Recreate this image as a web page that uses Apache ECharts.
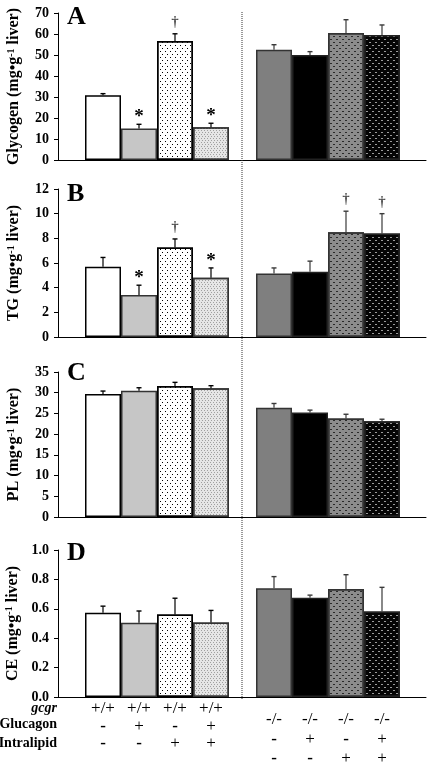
<!DOCTYPE html>
<html>
<head>
<meta charset="utf-8">
<script src="https://cdn.jsdelivr.net/npm/echarts@6/dist/echarts.min.js"></script>
<style>html,body{margin:0;padding:0;background:#fff}#c{width:430px;height:762px}</style>
</head>
<body>
<div id="c"></div>
<script>
// ---------- data ----------
const categories = ['WT','WT+Glucagon','WT+Intralipid','WT+Glucagon+Intralipid','KO','KO+Glucagon','KO+Intralipid','KO+Glucagon+Intralipid'];
const gcgrRow = ['+/+','+/+','+/+','+/+','-/-','-/-','-/-','-/-'];
const glucagonRow = ['-','+','-','+','-','+','-','+'];
const intralipidRow = ['-','-','+','+','-','-','+','+'];
const rowHeaders = ['gcgr','Glucagon','Intralipid'];

const glycogenMean = [30.8, 15.0, 56.7, 15.6, 52.5, 50.0, 60.5, 59.5];
const glycogenErr  = [0.8, 2.0, 3.4, 1.9, 2.4, 1.6, 6.3, 4.8];
const glycogenMark = ['', '*', '†', '*', '', '', '', ''];

const tgMean = [5.7, 3.4, 7.25, 4.8, 5.15, 5.3, 8.5, 8.4];
const tgErr  = [0.75, 0.8, 0.7, 0.8, 0.45, 0.85, 1.7, 1.6];
const tgMark = ['', '*', '†', '*', '', '', '†', '†'];

const plMean = [29.7, 30.5, 31.6, 31.1, 26.4, 25.2, 23.8, 23.1];
const plErr  = [0.7, 0.7, 0.9, 0.6, 1.0, 0.6, 1.0, 0.5];
const plMark = ['', '', '', '', '', '', '', ''];

const ceMean = [0.573, 0.505, 0.562, 0.507, 0.739, 0.675, 0.734, 0.582];
const ceErr  = [0.045, 0.08, 0.11, 0.082, 0.08, 0.018, 0.098, 0.164];
const ceMark = ['', '', '', '', '', '', '', ''];

const panelLetters = ['A','B','C','D'];
const yNames = ['Glycogen', 'TG', 'PL', 'CE'];
const yMax = [70, 12, 35, 1.0];
const yInterval = [10, 2, 5, 0.2];

// ---------- styles / layout ----------
const SERIF = '"Liberation Serif","DejaVu Serif",serif';
const panelTop = [13, 189, 372, 550];
const panelBottom = [160, 337, 517, 697];
const frameLeft = 58, frameRight = 4;
const leftGroup = {left: 85, width: 144};
const rightGroup = {left: 256, width: 144};

const barStyles = [
  {color:'#ffffff', borderColor:'#000', borderWidth:1.5},
  {color:'#c6c6c6', borderColor:'#333', borderWidth:1.5},
  {color:'#ffffff', borderColor:'#000', borderWidth:1.5,
   decal:{symbol:'rect', symbolSize:1, color:'#000', dashArrayX:[[1,4],[0,2,1,2]], dashArrayY:[1,2]}},
  {color:'#e6e6e6', borderColor:'#333', borderWidth:1.5,
   decal:{symbol:'rect', symbolSize:1, color:'#a0a0a0', dashArrayX:[[1,2],[0,1,1,1]], dashArrayY:[1,1]}},
  {color:'#7f7f7f', borderColor:'#333', borderWidth:1.5},
  {color:'#000000', borderColor:'#222', borderWidth:1.5},
  {color:'#8c8c8c', borderColor:'#333', borderWidth:1.5,
   decal:{symbol:'rect', symbolSize:1, color:'#2a2a2a', dashArrayX:[[2,4],[0,3,2,1]], dashArrayY:[1,2]}},
  {color:'#050505', borderColor:'#222', borderWidth:1.5,
   decal:{symbol:'rect', symbolSize:1, color:'#9a9a9a', dashArrayX:[[2,4],[0,3,2,1]], dashArrayY:[1,2]}}
];

const means = [glycogenMean, tgMean, plMean, ceMean];
const errs = [glycogenErr, tgErr, plErr, ceErr];
const marks = [glycogenMark, tgMark, plMark, ceMark];

const grid = [], xAxis = [], yAxis = [], series = [];

function errRender(color) {
  return function (params, api) {
    const idx = api.value(0), v = api.value(1), e = api.value(2);
    const top = api.coord([idx, v]);
    const end = api.coord([idx, v + e]);
    return {type:'group', children:[
      {type:'line', shape:{x1:top[0], y1:top[1], x2:end[0], y2:end[1]}, style:{stroke:color, lineWidth:1.2}},
      {type:'line', shape:{x1:end[0]-2.5, y1:end[1], x2:end[0]+2.5, y2:end[1]}, style:{stroke:color, lineWidth:1.4}}
    ]};
  };
}

function markRender(params, api) {
  const idx = api.value(0), v = api.value(1), e = api.value(2);
  const m = this.marksArr[params.dataIndex];
  if (!m) return null;
  const end = api.coord([idx, v + e]);
  const isStar = m === '*';
  return {type:'text', style:{
    text: m, x: end[0], y: isStar ? end[1] - 7 : end[1] - 12,
    textAlign:'center', textVerticalAlign:'middle',
    font: isStar ? 'bold 19px ' + SERIF : '15px ' + SERIF, fill:'#000'
  }};
}

function cell(s) {
  return s === '-' ? '{d|' + s + '}' : '{v|' + s + '}';
}

for (let p = 0; p < 4; p++) {
  const top = panelTop[p], height = panelBottom[p] - panelTop[p];
  const g0 = grid.length;
  grid.push({left: frameLeft, right: frameRight, top, height, outerBoundsMode:'none', containLabel:false});
  grid.push({left: leftGroup.left, width: leftGroup.width, top, height, outerBoundsMode:'none', containLabel:false});
  grid.push({left: rightGroup.left, width: rightGroup.width, top, height, outerBoundsMode:'none', containLabel:false});

  // frame axes
  xAxis.push({gridIndex:g0, type:'category', data:[''], axisLine:{show:true, lineStyle:{color:'#000', width:1}}, axisTick:{show:false}, axisLabel:{show:false}});
  yAxis.push({gridIndex:g0, type:'value', min:0, max:yMax[p], interval:yInterval[p],
    axisLine:{show:true, lineStyle:{color:'#000', width:1}},
    axisTick:{show:true, inside:false, length:4, lineStyle:{color:'#000'}},
    splitLine:{show:false},
    axisLabel:{margin:9, color:'#000', fontFamily:SERIF, fontWeight:'bold', fontSize:14,
      formatter: v => p === 3 ? v.toFixed(1) : String(v)},
    name: '{t|' + yNames[p] + ' (mg•g}{s|-1}{t| liver)}', nameLocation:'middle', nameGap:36, nameRotate:90,
    nameTextStyle:{rich:{
      t:{fontFamily:SERIF, fontWeight:'bold', fontSize:16, color:'#000'},
      s:{fontFamily:SERIF, fontWeight:'bold', fontSize:10, color:'#000', verticalAlign:'top', padding:[0,0,6,0]}
    }}
  });

  for (let h = 0; h < 2; h++) {
    const gi = g0 + 1 + h;
    const sl = h === 0 ? [0,4] : [4,8];
    const showLabels = p === 3;
    const lh = h === 0 ? 17.5 : 19.5;
    xAxis.push({gridIndex:gi, type:'category', data:categories.slice(sl[0], sl[1]),
      show: showLabels, axisLine:{show:false}, axisTick:{show:false}, splitLine:{show:false},
      axisLabel:{show: showLabels, interval:0, margin: h === 0 ? 3 : 13, color:'#000',
        formatter: (val, i) => {
          const k = sl[0] + i;
          return cell(gcgrRow[k]) + '\n' + cell(glucagonRow[k]) + '\n' + cell(intralipidRow[k]);
        },
        rich:{
          v:{fontFamily:SERIF, fontSize:17, color:'#000', lineHeight:lh, align:'center'},
          d:{fontFamily:SERIF, fontSize:17, fontWeight:'bold', color:'#000', lineHeight:lh, align:'center'}
        }
      }});
    yAxis.push({gridIndex:gi, type:'value', min:0, max:yMax[p], interval:yInterval[p], show:false});

    const axisIdx = xAxis.length - 1;
    series.push({type:'bar', xAxisIndex:axisIdx, yAxisIndex:axisIdx, barCategoryGap:'0%', barWidth:'100%',
      data: means[p].slice(sl[0], sl[1]).map((v, i) => ({value:v, itemStyle: barStyles[sl[0] + i]})),
      silent:true, animation:false});
    const errData = means[p].slice(sl[0], sl[1]).map((v, i) => [i, v, errs[p][sl[0] + i]]);
    series.push({type:'custom', xAxisIndex:axisIdx, yAxisIndex:axisIdx, z:5, silent:true, animation:false,
      renderItem: errRender(h === 0 ? '#000' : '#3a3a3a'), data: errData});
    const ctx = {marksArr: marks[p].slice(sl[0], sl[1])};
    series.push({type:'custom', xAxisIndex:axisIdx, yAxisIndex:axisIdx, z:6, silent:true, animation:false,
      renderItem: markRender.bind(ctx), data: errData});
  }
}

const graphic = [];
// dotted separator
graphic.push({type:'line', shape:{x1:242, y1:12, x2:242, y2:700}, style:{stroke:'#333', lineWidth:1, lineDash:[1,1]}, z:10});
// panel letters
const letterY = [4, 181, 360, 540];
panelLetters.forEach((L, i) => graphic.push({type:'text', left:67, top:letterY[i],
  style:{text:L, font:'bold 26px ' + SERIF, fill:'#000'}}));
// row headers
const headerY = [708, 724, 743];
rowHeaders.forEach((t, i) => graphic.push({type:'text', x:57, y:headerY[i],
  style:{text:t, textAlign:'right', textVerticalAlign:'middle',
    font:(i === 0 ? 'italic bold 14px ' : 'bold 14px ') + SERIF, fill:'#000'}}));

const chart = echarts.init(document.getElementById('c'), null, {renderer:'canvas'});
chart.setOption({animation:false, backgroundColor:'#fff', grid, xAxis, yAxis, series, graphic});
</script>
</body>
</html>
